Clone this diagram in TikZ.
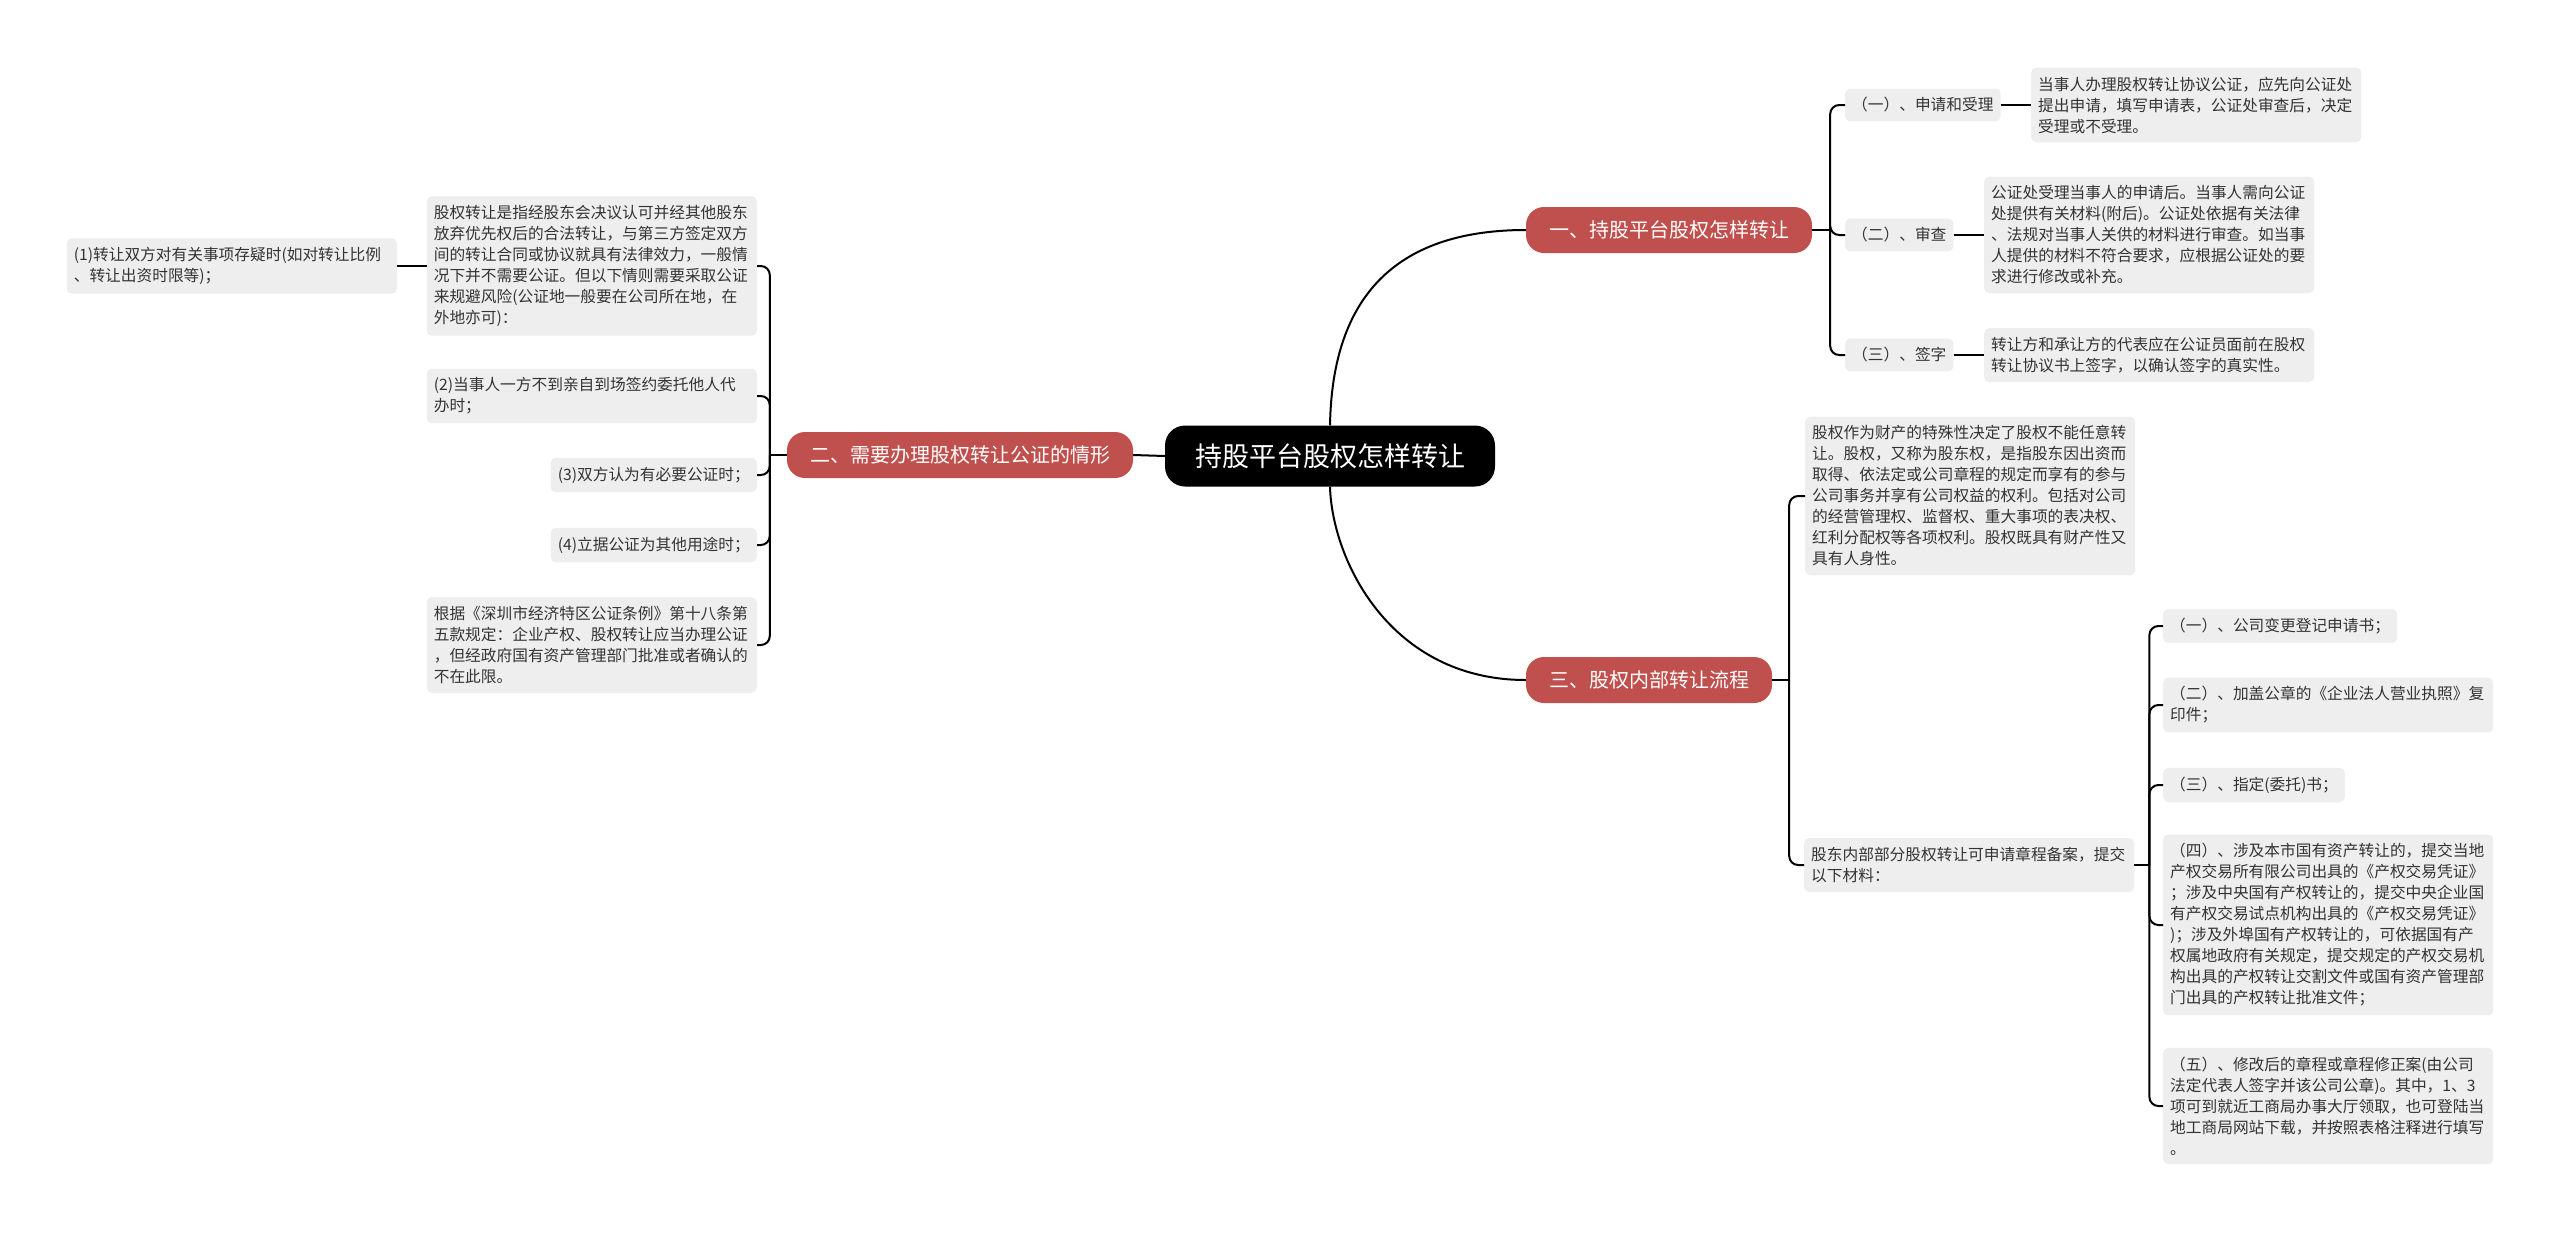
\documentclass[tikz,border=0pt]{standalone}
\usepackage{fontspec}
\setmainfont{Noto Sans CJK SC}
\usetikzlibrary{positioning}
\definecolor{TopicRed}{RGB}{192,80,77}
\definecolor{LeafGray}{RGB}{238,238,238}
\definecolor{LeafText}{RGB}{51,51,51}

\begin{document}
\begin{tikzpicture}[x=1pt, y=-1pt,
    topicbox/.style={fill=black, text=white, rounded corners=20pt, inner xsep=30pt, minimum height=61pt, font=\fontsize{27pt}{32pt}\selectfont},
    branchbox/.style={fill=TopicRed, text=white, rounded corners=18pt, inner xsep=23pt, minimum height=46pt, font=\fontsize{20pt}{24pt}\selectfont},
    leafbox/.style={fill=LeafGray, text=LeafText, rounded corners=5pt, inner xsep=7pt, inner ysep=9pt, font=\fontsize{15.7pt}{21pt}\selectfont},
    wideleaf/.style={leafbox, text width=316pt, align=left},
    mainlink/.style={line width=2pt, draw=black},
    forklink/.style={mainlink, rounded corners=9pt}
  ]
    \fill[white] (0,0) rectangle (2560,1232);
    \useasboundingbox (0,0) rectangle (2560,1232);

    \node[topicbox] (topic) at (1330,456) {持股平台股权怎样转让};
    \node[branchbox] (howto) at (1669,230) {一、持股平台股权怎样转让};
    \node[branchbox] (notary) at (960,455) {二、需要办理股权转让公证的情形};
    \node[branchbox] (internal) at (1649,680) {三、股权内部转让流程};

    \node[leafbox, anchor=west] (apply) at (1845,105) {（一）、申请和受理};
    \node[wideleaf, anchor=west] (applyd) at (2031,105) {当事人办理股权转让协议公证，应先向公证处\\提出申请，填写申请表，公证处审查后，决定\\受理或不受理。};
    \node[leafbox, anchor=west] (review) at (1845,235) {（二）、审查};
    \node[wideleaf, anchor=west] (reviewd) at (1984,235) {公证处受理当事人的申请后。当事人需向公证\\处提供有关材料(附后)。公证处依据有关法律\\、法规对当事人关供的材料进行审查。如当事\\人提供的材料不符合要求，应根据公证处的要\\求进行修改或补充。};
    \node[leafbox, anchor=west] (sign) at (1845,355) {（三）、签字};
    \node[wideleaf, anchor=west] (signd) at (1984,355) {转让方和承让方的代表应在公证员面前在股权\\转让协议书上签字，以确认签字的真实性。};

    \node[wideleaf, anchor=west] (nature) at (1805,496) {股权作为财产的特殊性决定了股权不能任意转\\让。股权，又称为股东权，是指股东因出资而\\取得、依法定或公司章程的规定而享有的参与\\公司事务并享有公司权益的权利。包括对公司\\的经营管理权、监督权、重大事项的表决权、\\红利分配权等各项权利。股权既具有财产性又\\具有人身性。};
    \node[wideleaf, anchor=west] (filing) at (1804,865) {股东内部部分股权转让可申请章程备案，提交\\以下材料：};
    \node[leafbox, anchor=west] (doc1) at (2163,626) {（一）、公司变更登记申请书；};
    \node[wideleaf, anchor=west] (doc2) at (2163,705) {（二）、加盖公章的《企业法人营业执照》复\\印件；};
    \node[leafbox, anchor=west] (doc3) at (2163,785) {（三）、指定(委托)书；};
    \node[wideleaf, anchor=west] (doc4) at (2163,925) {（四）、涉及本市国有资产转让的，提交当地\\产权交易所有限公司出具的《产权交易凭证》\\；涉及中央国有产权转让的，提交中央企业国\\有产权交易试点机构出具的《产权交易凭证》\\)；涉及外埠国有产权转让的，可依据国有产\\权属地政府有关规定，提交规定的产权交易机\\构出具的产权转让交割文件或国有资产管理部\\门出具的产权转让批准文件；};
    \node[wideleaf, anchor=west] (doc5) at (2163,1106) {（五）、修改后的章程或章程修正案(由公司\\法定代表人签字并该公司公章)。其中，1、3\\项可到就近工商局办事大厅领取，也可登陆当\\地工商局网站下载，并按照表格注释进行填写\\。};

    \node[wideleaf, anchor=east] (defn) at (757,266) {股权转让是指经股东会决议认可并经其他股东\\放弃优先权后的合法转让，与第三方签定双方\\间的转让合同或协议就具有法律效力，一般情\\况下并不需要公证。但以下情则需要采取公证\\来规避风险(公证地一般要在公司所在地，在\\外地亦可)：};
    \node[wideleaf, anchor=east] (doubt) at (397,266) {(1)转让双方对有关事项存疑时(如对转让比例\\、转让出资时限等)；};
    \node[wideleaf, anchor=east] (proxy) at (757,396) {(2)当事人一方不到亲自到场签约委托他人代\\办时；};
    \node[leafbox, anchor=east] (needed) at (757,475) {(3)双方认为有必要公证时；};
    \node[leafbox, anchor=east] (other) at (757,545) {(4)立据公证为其他用途时；};
    \node[wideleaf, anchor=east] (rule) at (757,645) {根据《深圳市经济特区公证条例》第十八条第\\五款规定：企业产权、股权转让应当办理公证\\，但经政府国有资产管理部门批准或者确认的\\不在此限。};

    \coordinate (rfork) at ([xshift=18pt]howto.east);
    \coordinate (ifork) at ([xshift=17pt]internal.east);
    \coordinate (ffork) at ([xshift=15pt]filing.east);
    \coordinate (lfork) at ([xshift=-17pt]notary.west);

    \draw[mainlink] (topic.north) .. controls (1332,306) and (1387,230) .. (howto.west);
    \draw[mainlink] (topic.south) .. controls (1332,560) and (1390,680) .. (internal.west);
    \draw[mainlink] (topic.west) -- (notary.east);

    \draw[mainlink] (howto.east) -- (rfork);
    \foreach \n in {apply, review, sign}
      \draw[forklink] (rfork) |- (\n.west);
    \draw[mainlink] (apply.east) -- (applyd.west);
    \draw[mainlink] (review.east) -- (reviewd.west);
    \draw[mainlink] (sign.east) -- (signd.west);

    \draw[mainlink] (internal.east) -- (ifork);
    \foreach \n in {nature, filing}
      \draw[forklink] (ifork) |- (\n.west);
    \draw[mainlink] (filing.east) -- (ffork);
    \foreach \n in {doc1, doc2, doc3, doc4, doc5}
      \draw[forklink] (ffork) |- (\n.west);

    \draw[mainlink] (notary.west) -- (lfork);
    \foreach \n in {defn, proxy, needed, other, rule}
      \draw[forklink] (lfork) |- (\n.east);
    \draw[mainlink] (doubt.east) -- (defn.west);
  \end{tikzpicture}
\end{document}
